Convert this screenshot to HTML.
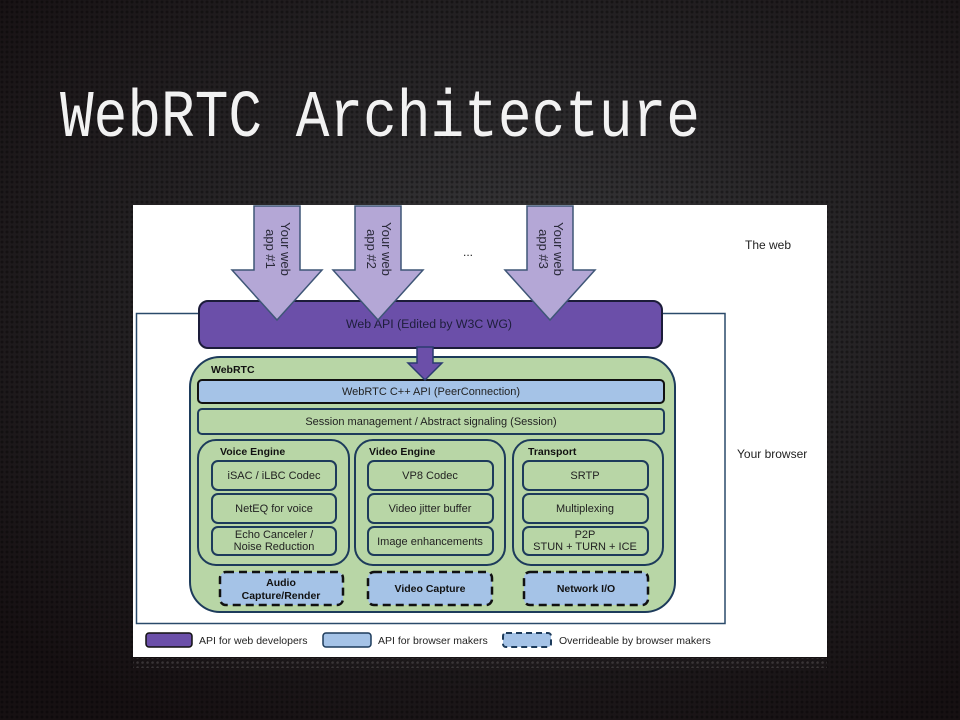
<!DOCTYPE html>
<html>
<head>
<meta charset="utf-8">
<style>
  html,body{margin:0;padding:0;}
  body{width:960px;height:720px;overflow:hidden;position:relative;
    background:
      radial-gradient(ellipse 75% 70% at 55% 40%, rgba(60,60,62,0.95) 0%, rgba(40,38,40,0.9) 45%, rgba(22,16,18,1) 100%),
      #141012;}
  .tex{position:absolute;left:0;top:0;width:960px;height:720px;
    background-image:radial-gradient(circle at 2px 2px, rgba(0,0,0,0.35) 1.2px, transparent 1.8px);
    background-size:5px 5px;}
  svg{position:absolute;left:0;top:0;}
</style>
</head>
<body>
<div class="tex"></div>
<svg width="960" height="720" viewBox="0 0 960 720" xmlns="http://www.w3.org/2000/svg">
  <defs>
    <pattern id="dots" width="5" height="5" patternUnits="userSpaceOnUse">
      <circle cx="2.5" cy="2.5" r="1.3" fill="#6a6466"/>
    </pattern>
  </defs>
  <!-- Title -->
  <g transform="translate(0,136) scale(1,1.2)">
    <text x="60" y="0" font-family="Liberation Mono, monospace" font-size="56" fill="#f2f2f2" textLength="640" lengthAdjust="spacingAndGlyphs">WebRTC Architecture</text>
  </g>

  <!-- panel reflection -->
  <rect x="133" y="658" width="694" height="10" fill="url(#dots)" opacity="0.45"/>
  <!-- White panel -->
  <rect x="133" y="205" width="694" height="452" fill="#ffffff"/>

  <!-- browser outline -->
  <rect x="136.5" y="313.5" width="588.5" height="310" fill="none" stroke="#2a4a6a" stroke-width="1.5"/>

  <g font-family="Liberation Sans, Arial, sans-serif" fill="#222">
    <text x="745" y="249" font-size="12">The web</text>
    <text x="737" y="458" font-size="12">Your browser</text>
    <text x="468" y="256" font-size="12" text-anchor="middle">...</text>
  </g>

  <!-- Web API bar -->
  <rect x="199" y="301" width="463" height="47" rx="9" fill="#6b4fa9" stroke="#1c1c3a" stroke-width="2"/>
  <text x="429" y="328" font-family="Liberation Sans, Arial, sans-serif" font-size="11.5" fill="#1e1e3c" text-anchor="middle" textLength="166" lengthAdjust="spacingAndGlyphs">Web API (Edited by W3C WG)</text>

  <!-- Big arrows -->
  <g fill="#b4a7d6" stroke="#3f5677" stroke-width="1.5" stroke-linejoin="miter">
    <polygon points="254,206 300,206 300,270 322,270 277,320 232,270 254,270"/>
    <polygon points="355,206 401,206 401,270 423,270 378,320 333,270 355,270"/>
    <polygon points="527,206 573,206 573,270 595,270 550,320 505,270 527,270"/>
  </g>
  <g font-family="Liberation Sans, Arial, sans-serif" font-size="13" fill="#2a2a3a" text-anchor="middle">
    <text transform="translate(281,249) rotate(90)">Your web</text>
    <text transform="translate(266,249) rotate(90)">app #1</text>
    <text transform="translate(382,249) rotate(90)">Your web</text>
    <text transform="translate(367,249) rotate(90)">app #2</text>
    <text transform="translate(554,249) rotate(90)">Your web</text>
    <text transform="translate(539,249) rotate(90)">app #3</text>
  </g>

  <!-- WebRTC container -->
  <rect x="190" y="357" width="485" height="255" rx="30" fill="#b8d6a6" stroke="#1d3b5b" stroke-width="2"/>
  <text x="211" y="373" font-family="Liberation Sans, Arial, sans-serif" font-size="10.5" font-weight="bold" fill="#111">WebRTC</text>

  <!-- C++ API -->
  <rect x="198" y="380" width="466" height="23" rx="4" fill="#a5c3e7" stroke="#111" stroke-width="2"/>
  <text x="431" y="395" font-family="Liberation Sans, Arial, sans-serif" font-size="11" fill="#222" text-anchor="middle">WebRTC C++ API (PeerConnection)</text>

  <!-- Session -->
  <rect x="198" y="409" width="466" height="25" rx="4" fill="#b8d6a6" stroke="#1d3b5b" stroke-width="2"/>
  <text x="431" y="425" font-family="Liberation Sans, Arial, sans-serif" font-size="11" fill="#222" text-anchor="middle">Session management / Abstract signaling (Session)</text>

  <!-- Engines -->
  <g fill="#b8d6a6" stroke="#1d3b5b" stroke-width="2">
    <rect x="198" y="440" width="151" height="125" rx="18"/>
    <rect x="355" y="440" width="150" height="125" rx="18"/>
    <rect x="513" y="440" width="150" height="125" rx="18"/>

    <rect x="212" y="461" width="124" height="29" rx="6"/>
    <rect x="212" y="494" width="124" height="29" rx="6"/>
    <rect x="212" y="527" width="124" height="28" rx="6"/>

    <rect x="368" y="461" width="125" height="29" rx="6"/>
    <rect x="368" y="494" width="125" height="29" rx="6"/>
    <rect x="368" y="527" width="125" height="28" rx="6"/>

    <rect x="523" y="461" width="125" height="29" rx="6"/>
    <rect x="523" y="494" width="125" height="29" rx="6"/>
    <rect x="523" y="527" width="125" height="28" rx="6"/>
  </g>
  <g font-family="Liberation Sans, Arial, sans-serif" font-size="10.5" font-weight="bold" fill="#111">
    <text x="220" y="455">Voice Engine</text>
    <text x="369" y="455">Video Engine</text>
    <text x="528" y="455">Transport</text>
  </g>
  <g font-family="Liberation Sans, Arial, sans-serif" font-size="11" fill="#222" text-anchor="middle">
    <text x="274" y="479">iSAC / iLBC Codec</text>
    <text x="274" y="512">NetEQ for voice</text>
    <text x="274" y="538">Echo Canceler /</text>
    <text x="274" y="550">Noise Reduction</text>

    <text x="430" y="479">VP8 Codec</text>
    <text x="430" y="512">Video jitter buffer</text>
    <text x="430" y="545">Image enhancements</text>

    <text x="585" y="479">SRTP</text>
    <text x="585" y="512">Multiplexing</text>
    <text x="585" y="538">P2P</text>
    <text x="585" y="550">STUN + TURN + ICE</text>
  </g>

  <!-- Dashed boxes -->
  <g fill="#a5c3e7" stroke="#111" stroke-width="2.5" stroke-dasharray="8 5">
    <rect x="220" y="572" width="123" height="33" rx="6"/>
    <rect x="368" y="572" width="124" height="33" rx="6"/>
    <rect x="524" y="572" width="124" height="33" rx="6"/>
  </g>
  <g font-family="Liberation Sans, Arial, sans-serif" font-size="10.5" font-weight="bold" fill="#111" text-anchor="middle">
    <text x="281" y="586">Audio</text>
    <text x="281" y="599">Capture/Render</text>
    <text x="430" y="592">Video Capture</text>
    <text x="586" y="592">Network I/O</text>
  </g>

  <!-- small arrow -->
  <polygon points="417,347 433,347 433,363 442,363 425,380 408,363 417,363" fill="#6b4fa9" stroke="#2b3a70" stroke-width="1.5"/>

  <!-- Legend -->
  <rect x="146" y="633" width="46" height="14" rx="3" fill="#6b4fa9" stroke="#111" stroke-width="1.5"/>
  <rect x="323" y="633" width="48" height="14" rx="3" fill="#a5c3e7" stroke="#1d3b5b" stroke-width="1.5"/>
  <rect x="503" y="633" width="48" height="14" rx="3" fill="#a5c3e7" stroke="#1d3b5b" stroke-width="2" stroke-dasharray="6 4"/>
  <g font-family="Liberation Sans, Arial, sans-serif" font-size="10.5" fill="#222">
    <text x="199" y="644">API for web developers</text>
    <text x="378" y="644">API for browser makers</text>
    <text x="559" y="644">Overrideable by browser makers</text>
  </g>
</svg>
</body>
</html>
